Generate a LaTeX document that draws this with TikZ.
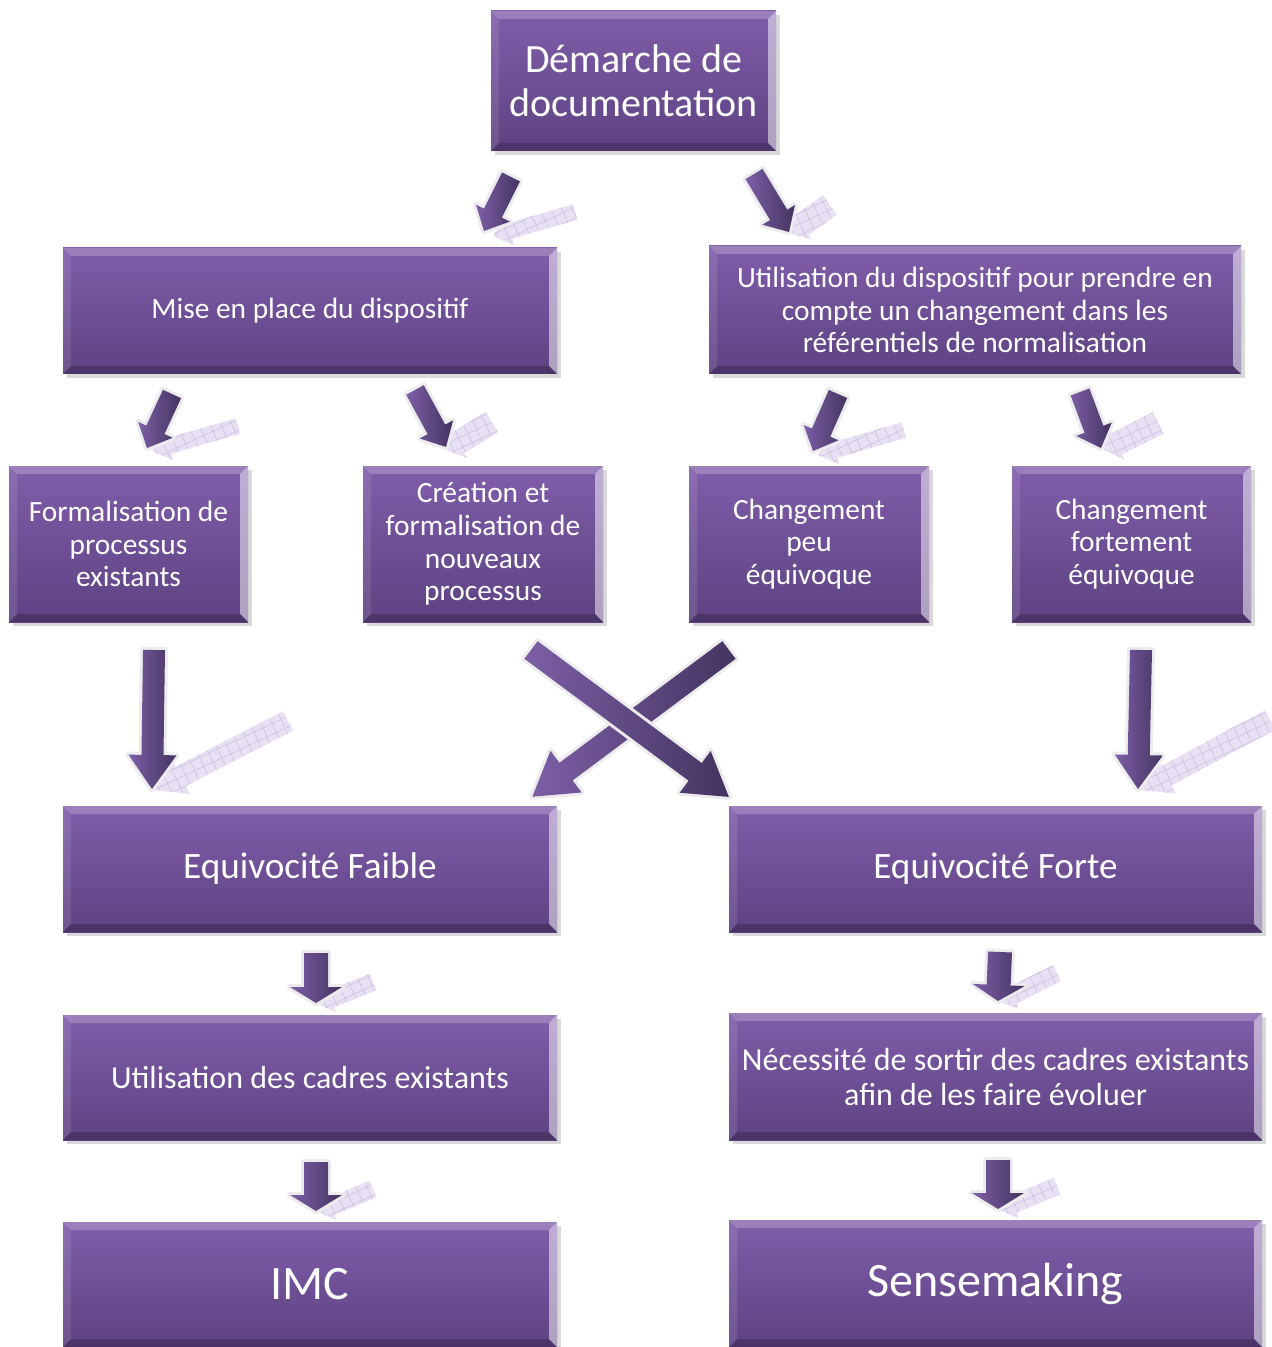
\documentclass[tikz,border=0pt]{standalone}
\usepackage{fontspec}
\setmainfont{Carlito}
\usetikzlibrary{shadows,patterns.meta,calc}
\definecolor{boxtop}{RGB}{128,93,170}
\definecolor{boxbot}{RGB}{94,66,130}
\definecolor{arlight}{RGB}{125,94,166}
\definecolor{ardark}{RGB}{68,52,96}
\definecolor{arhalo}{RGB}{236,236,238}
\definecolor{shcol}{RGB}{232,225,243}
\definecolor{shgrid}{RGB}{205,192,226}
\newdimen\baX \newdimen\baY \newdimen\bbX \newdimen\bbY
\newcommand\blockpoly[6]{%
  \pgfextractx{\baX}{\pgfpointanchor{#1}{center}}%
  \pgfextracty{\baY}{\pgfpointanchor{#1}{center}}%
  \pgfextractx{\bbX}{\pgfpointanchor{#2}{center}}%
  \pgfextracty{\bbY}{\pgfpointanchor{#2}{center}}%
  \pgfmathsetmacro\bAng{atan2(\bbY-\baY,\bbX-\baX)}%
  \pgfmathsetmacro\bLen{veclen(\bbX-\baX,\bbY-\baY)}%
  \pgfmathsetmacro\bNeck{\bLen-#5*0.5}%
  \pgfmathsetmacro\bSw{#3*0.5}%
  \pgfmathsetmacro\bHw{#4*0.5}%
  \begin{scope}[shift={(#1)},rotate=\bAng]
    \path[#6] (0pt,-\bSw pt) -- (\bNeck pt,-\bSw pt) -- (\bNeck pt,-\bHw pt) -- (\bLen pt,0pt) -- (\bNeck pt,\bHw pt) -- (\bNeck pt,\bSw pt) -- (0pt,\bSw pt) -- cycle;
  \end{scope}}
\tikzset{
  box/.style={top color=boxtop, bottom color=boxbot, text=white, align=center, inner sep=0pt,
    font=\fontsize{14.7}{16.3}\selectfont,
    drop shadow={shadow xshift=1.8pt, shadow yshift=-1.8pt, opacity=0.3},
    path picture={
      \fill[white,opacity=0.22] (path picture bounding box.north west) -- (path picture bounding box.north east)
        -- ([shift={(-4pt,-4pt)}]path picture bounding box.north east) -- ([shift={(4pt,-4pt)}]path picture bounding box.north west) -- cycle;
      \fill[white,opacity=0.1] (path picture bounding box.north west) -- (path picture bounding box.south west)
        -- ([shift={(4pt,4pt)}]path picture bounding box.south west) -- ([shift={(4pt,-4pt)}]path picture bounding box.north west) -- cycle;
      \fill[white,opacity=0.5] (path picture bounding box.north east) -- (path picture bounding box.south east)
        -- ([shift={(-4pt,4pt)}]path picture bounding box.south east) -- ([shift={(-4pt,-4pt)}]path picture bounding box.north east) -- cycle;
      \fill[black,opacity=0.2] (path picture bounding box.south west) -- (path picture bounding box.south east)
        -- ([shift={(-4pt,4pt)}]path picture bounding box.south east) -- ([shift={(4pt,4pt)}]path picture bounding box.south west) -- cycle;
    }},
  arrowbody/.style={preaction={draw=arhalo,line width=3pt,line join=round}, left color=arlight, right color=ardark},
  shadowbody/.style={fill=shcol, postaction={pattern={Hatch[distance=5pt,angle=25,line width=0.3pt]}, pattern color=shgrid}},
  bigtext/.style={font=\fontsize{24}{29}\selectfont},
  lowtext/.style={font=\fontsize{16}{17.5}\selectfont},
  midtext/.style={font=\fontsize{18.6}{22}\selectfont},
  toptext/.style={font=\fontsize{20}{22}\selectfont}
}
\begin{document}
\begin{tikzpicture}[x=0.5pt,y=-0.5pt]
\useasboundingbox (0,0) rectangle (1272,1347);
% boxes
\node[box,toptext,minimum width=142.5pt,minimum height=70pt] (doc) at (633.5,81) {Démarche de\\documentation};
\node[box,minimum width=247pt,minimum height=63pt] (mise) at (310,311) {Mise en place du dispositif};
\node[box,minimum width=266pt,minimum height=64pt] (util) at (975,310) {Utilisation du dispositif pour prendre en\\compte un changement dans les\\référentiels de normalisation};
\node[box,minimum width=119.5pt,minimum height=78pt] (form) at (128.5,544) {Formalisation de\\processus\\existants};
\node[box,minimum width=120pt,minimum height=78pt] (crea) at (483,544) {Création et\\formalisation de\\nouveaux\\processus};
\node[box,minimum width=120pt,minimum height=78pt] (peu) at (809,544) {Changement\\peu\\équivoque};
\node[box,minimum width=119.5pt,minimum height=78pt] (fort) at (1131.5,544) {Changement\\fortement\\équivoque};
\node[box,midtext,minimum width=247pt,minimum height=63pt] (faible) at (310,869) {Equivocité Faible};
\node[box,midtext,minimum width=266.5pt,minimum height=63pt] (forte) at (995.5,869) {Equivocité Forte};
\node[box,lowtext,minimum width=247pt,minimum height=62.5pt] (cadres) at (310,1077.5) {Utilisation des cadres existants};
\node[box,lowtext,minimum width=266.5pt,minimum height=63.5pt] (sortir) at (995.5,1076.5) {Nécessité de sortir des cadres existants\\afin de les faire évoluer};
\node[box,bigtext,minimum width=247pt,minimum height=62.5pt] (imc) at (310,1284.5) {IMC};
\node[box,bigtext,minimum width=266.5pt,minimum height=63.5pt] (sense) at (995.5,1283.5) {Sensemaking};
% arrow end points
\coordinate (a1s) at (511,177);  \coordinate (a1e) at (484,231);  \coordinate (a1r) at (575,212);  \coordinate (a1t) at (493,236);
\coordinate (a2s) at (754,174);  \coordinate (a2e) at (789,232);  \coordinate (a2r) at (830,205);  \coordinate (a2t) at (790,233);
\coordinate (a3s) at (172,394);  \coordinate (a3e) at (147,448);  \coordinate (a3r) at (238,426);  \coordinate (a3t) at (152,451);
\coordinate (a4s) at (415,390);  \coordinate (a4e) at (446,447);  \coordinate (a4r) at (492,422);  \coordinate (a4t) at (446,450);
\coordinate (a5s) at (838,394);  \coordinate (a5e) at (813,451);  \coordinate (a5r) at (904,430);  \coordinate (a5t) at (818,455);
\coordinate (a6s) at (1080,392); \coordinate (a6e) at (1101,448); \coordinate (a6r) at (1158,423); \coordinate (a6t) at (1104,450);
\coordinate (a7s) at (154,650);  \coordinate (a7e) at (152,789);  \coordinate (a7r) at (288,721);  \coordinate (a7t) at (154,790);
\coordinate (a8s) at (1141,650); \coordinate (a8e) at (1138,789); \coordinate (a8r) at (1270,720); \coordinate (a8t) at (1140,790);
\coordinate (x1s) at (531,650);  \coordinate (x1e) at (729,797);
\coordinate (x2s) at (729,650);  \coordinate (x2e) at (532,797);
\coordinate (a9s) at (316,953);  \coordinate (a9e) at (316,1003); \coordinate (a9r) at (373,982);  \coordinate (a9t) at (318,1004);
\coordinate (a10s) at (1000,952);\coordinate (a10e) at (998,1001);\coordinate (a10r) at (1057,973);\coordinate (a10t) at (1000,1002);
\coordinate (a11s) at (316,1162);\coordinate (a11e) at (316,1211);\coordinate (a11r) at (373,1189);\coordinate (a11t) at (318,1212);
\coordinate (a12s) at (998,1160);\coordinate (a12e) at (998,1209);\coordinate (a12r) at (1057,1186);\coordinate (a12t) at (1000,1210);
% reflections
\blockpoly{a1r}{a1t}{8}{15}{18}{shadowbody}
\blockpoly{a2r}{a2t}{12}{18}{14}{shadowbody}
\blockpoly{a3r}{a3t}{8}{15}{18}{shadowbody}
\blockpoly{a4r}{a4t}{12}{18}{14}{shadowbody}
\blockpoly{a5r}{a5t}{8}{15}{18}{shadowbody}
\blockpoly{a6r}{a6t}{12}{18}{14}{shadowbody}
\blockpoly{a7r}{a7t}{11}{20}{30}{shadowbody}
\blockpoly{a8r}{a8t}{11}{20}{30}{shadowbody}
\blockpoly{a9r}{a9t}{9}{15}{14}{shadowbody}
\blockpoly{a10r}{a10t}{9}{15}{14}{shadowbody}
\blockpoly{a11r}{a11t}{9}{15}{14}{shadowbody}
\blockpoly{a12r}{a12t}{9}{15}{14}{shadowbody}
% arrows
\blockpoly{a1s}{a1e}{10}{19}{20}{arrowbody}
\blockpoly{a2s}{a2e}{10}{19}{20}{arrowbody}
\blockpoly{a3s}{a3e}{10}{19}{20}{arrowbody}
\blockpoly{a4s}{a4e}{10}{19}{20}{arrowbody}
\blockpoly{a5s}{a5e}{10}{19}{20}{arrowbody}
\blockpoly{a6s}{a6e}{10}{19}{20}{arrowbody}
\blockpoly{a7s}{a7e}{11}{24}{34}{arrowbody}
\blockpoly{a8s}{a8e}{11}{24}{34}{arrowbody}
\blockpoly{x2s}{x2e}{11}{26}{42}{arrowbody}
\blockpoly{x1s}{x1e}{11}{26}{42}{arrowbody}
\blockpoly{a9s}{a9e}{12}{26}{16}{arrowbody}
\blockpoly{a10s}{a10e}{12}{26}{16}{arrowbody}
\blockpoly{a11s}{a11e}{12}{26}{16}{arrowbody}
\blockpoly{a12s}{a12e}{12}{26}{16}{arrowbody}
\end{tikzpicture}
\end{document}
